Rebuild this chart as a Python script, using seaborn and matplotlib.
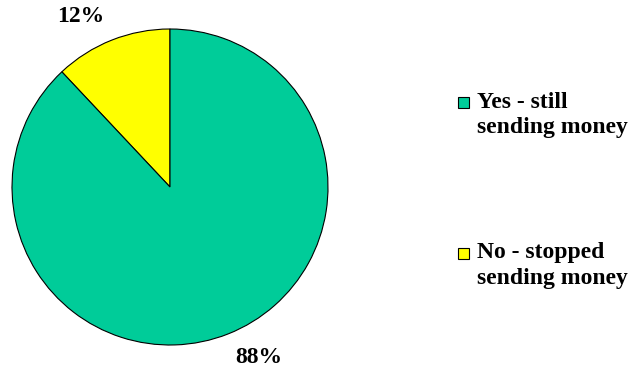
import matplotlib
matplotlib.use("Agg")
import matplotlib.pyplot as plt
from matplotlib.patches import Rectangle
import numpy as np
import seaborn as sns

# Share of respondents still sending money
categories = ["No - stopped\nsending money", "Yes - still\nsending money"]
shares = [12, 88]
pct_labels = ["12%", "88%"]
colors = ["#FFFF00", "#00CC99"]

sns.set_theme(style="white")
plt.rcParams["font.family"] = ["Liberation Serif", "DejaVu Serif"]

W, H = 631, 374
fig = plt.figure(figsize=(W / 100, H / 100), dpi=100)
fig.patch.set_facecolor("white")

# pie centre and radius in pixels
cx, cy, r = 170, 187, 158
ax = fig.add_axes([(cx - r) / W, (H - cy - r) / H, 2 * r / W, 2 * r / H])
wedges, _ = ax.pie(
    shares,
    colors=colors,
    startangle=90,
    counterclock=True,
    radius=1.0,
    wedgeprops=dict(edgecolor="black", linewidth=0.8),
)
ax.set_xlim(-1, 1)
ax.set_ylim(-1, 1)
ax.set_aspect("auto")
ax.axis("off")

# percentage labels outside each wedge
for w, lab in zip(wedges, pct_labels):
    mid = np.deg2rad((w.theta1 + w.theta2) / 2 + 6)
    ax.text(1.215 * np.cos(mid), 1.215 * np.sin(mid), lab,
            ha="center", va="center", fontsize=17, fontweight="bold",
            color="black", clip_on=False)

# legend entries: Yes first, then No
legend_rows = [(1, 102, 115), (0, 253, 265.5)]
box = 11
for idx, box_y, text_y in legend_rows:
    fig.add_artist(Rectangle(((458) / W, (H - box_y - box / 2) / H), box / W, box / H,
                             facecolor=colors[idx], edgecolor="black", linewidth=0.8,
                             transform=fig.transFigure))
    fig.text(477 / W, (H - text_y) / H, categories[idx], ha="left", va="center",
             fontsize=17, fontweight="bold", color="black", linespacing=1.3)

fig.savefig("out.png", dpi=100, facecolor="white")
